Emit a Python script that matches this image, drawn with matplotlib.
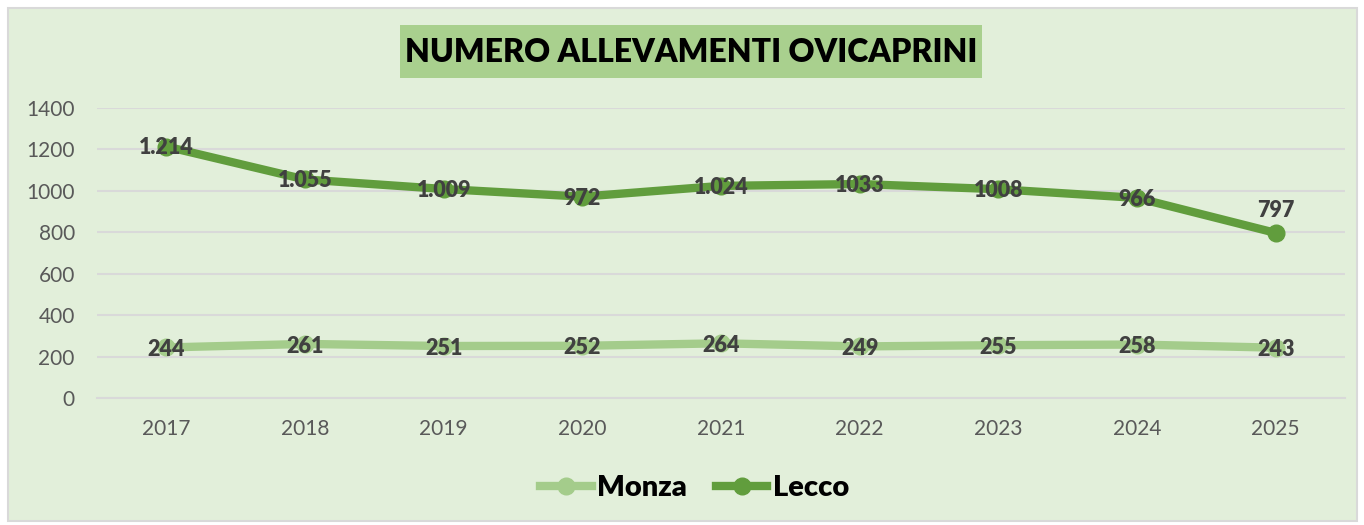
import matplotlib
matplotlib.use("Agg")
import matplotlib.pyplot as plt
from matplotlib.patches import Rectangle
from matplotlib.lines import Line2D

years = ["2017", "2018", "2019", "2020", "2021", "2022", "2023", "2024", "2025"]
monza = [244, 261, 251, 252, 264, 249, 255, 258, 243]
lecco = [1214, 1055, 1009, 972, 1024, 1033, 1008, 966, 797]
monza_labels = ["244", "261", "251", "252", "264", "249", "255", "258", "243"]
lecco_labels = ["1.214", "1.055", "1.009", "972", "1.024", "1033", "1008", "966", "797"]
yticks = [0, 200, 400, 600, 800, 1000, 1200, 1400]
title = "NUMERO ALLEVAMENTI OVICAPRINI"

W, H = 1364, 525
FONT = ["Lato", "DejaVu Sans"]
plt.rcParams["font.family"] = FONT

fig = plt.figure(figsize=(W / 100, H / 100), dpi=100)
fig.patch.set_facecolor("white")

def fx(px):
    return px / W

def fy(py):
    return 1 - py / H

# chart area background
fig.patches.append(Rectangle((fx(8), fy(521)), fx(1357) - fx(8), fy(8) - fy(521),
                             transform=fig.transFigure, facecolor="#E2EFDA",
                             edgecolor="#D9D9D9", linewidth=1.5, zorder=-2))
# title box
fig.patches.append(Rectangle((fx(400), fy(78)), fx(982) - fx(400), fy(25) - fy(78),
                             transform=fig.transFigure, facecolor="#A9D08E",
                             edgecolor="none", zorder=-1))
fig.text(fx(691), fy(52), title, ha="center", va="center", fontsize=23,
         fontweight="heavy", color="black", zorder=2)

ax = fig.add_axes([fx(97), fy(398), fx(1345) - fx(97), fy(108) - fy(398)])
ax.set_zorder(1)
ax.set_facecolor("none")
x = list(range(len(years)))
c_monza = "#A4CC8B"
c_lecco = "#619D3D"
ax.plot(x, monza, color=c_monza, lw=6, marker="o", ms=12, solid_capstyle="round", zorder=3)
ax.plot(x, lecco, color=c_lecco, lw=6, marker="o", ms=12, solid_capstyle="round", zorder=3)

ax.set_xlim(-0.5, len(years) - 0.5)
ax.set_ylim(0, 1400)
ax.set_yticks(yticks)
ax.set_xticks(x)
ax.set_xticklabels(years)
ax.tick_params(axis="both", length=0, labelsize=15, labelcolor="#595959")
ax.tick_params(axis="x", pad=15)
ax.tick_params(axis="y", pad=16)
ax.grid(axis="y", color="#D9D9D9", lw=1.5)
ax.set_axisbelow(True)
for s in ["top", "right", "left"]:
    ax.spines[s].set_visible(False)
ax.spines["bottom"].set_color("#D9D9D9")
ax.spines["bottom"].set_linewidth(1.5)

LW = "heavy"
for i, (v, lab) in enumerate(zip(lecco, lecco_labels)):
    if i == len(lecco) - 1:
        ax.annotate(lab, (i, v), xytext=(0, 16), textcoords="offset points",
                    ha="center", va="center", fontsize=15.5, fontweight=LW,
                    color="#404040", zorder=5)
    else:
        ax.annotate(lab, (i, v), xytext=(0, -1), textcoords="offset points",
                    ha="center", va="center", fontsize=15.5, fontweight=LW,
                    color="#404040", zorder=5)
for i, (v, lab) in enumerate(zip(monza, monza_labels)):
    ax.annotate(lab, (i, v), xytext=(0, -1.5), textcoords="offset points",
                ha="center", va="center", fontsize=15.5, fontweight=LW,
                color="#404040", zorder=5)

handles = [Line2D([0], [0], color=c_monza, lw=6, marker="o", ms=12),
           Line2D([0], [0], color=c_lecco, lw=6, marker="o", ms=12)]
leg = fig.legend(handles, ["Monza", "Lecco"], loc="center", bbox_to_anchor=(fx(695), fy(488)),
                 ncol=2, frameon=False, handlelength=1.75, handletextpad=0.2,
                 columnspacing=1.0, prop={"weight": "heavy", "size": 21})
for t in leg.get_texts():
    t.set_color("black")

fig.savefig("out.png", dpi=100, facecolor="white")
